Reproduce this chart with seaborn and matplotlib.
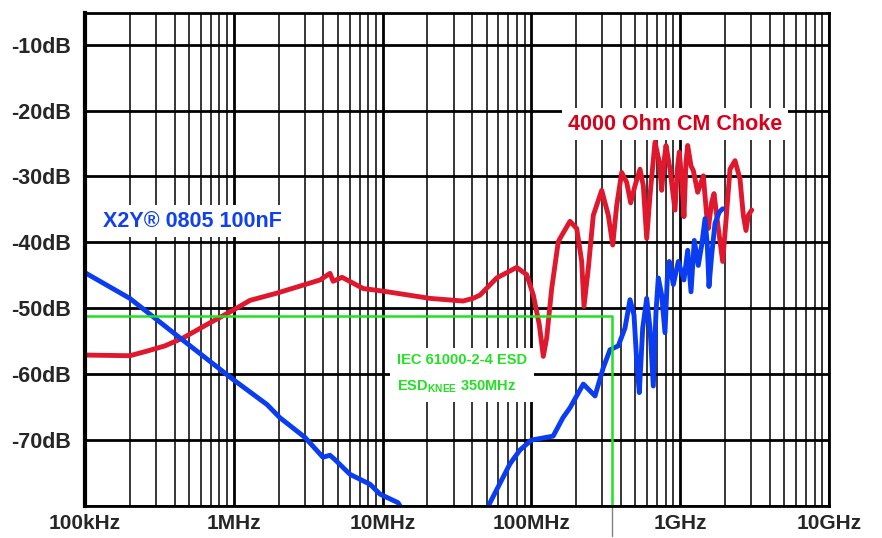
import matplotlib
matplotlib.use("Agg")
import matplotlib.pyplot as plt
import matplotlib.ticker as mticker
import numpy as np
import pandas as pd
import seaborn as sns

# 4000 Ohm CM choke (red)
choke_freq = [1e5, 2.0e5, 2.61e5, 3.449e5, 4.56e5, 6.92e5, 9.88e5, 1.285e6, 1.95e6,
              3.8e6, 4.43e6, 4.65e6, 5.34e6, 7.39e6, 1.007e7, 2.08e7, 3.47e7,
              4.05e7, 4.515e7, 5.845e7, 7.966e7, 9.299e7, 1.030e8, 1.130e8,
              1.202e8, 1.267e8, 1.369e8, 1.516e8, 1.557e8, 1.817e8, 2.016e8,
              2.178e8, 2.257e8, 2.413e8, 2.606e8, 2.968e8, 3.288e8, 3.519e8,
              3.744e8, 4.045e8, 4.370e8, 4.648e8, 4.968e8, 5.369e8, 5.649e8,
              5.955e8, 6.266e8, 6.771e8, 7.236e8, 7.510e8, 7.781e8, 8.027e8,
              8.541e8, 9.228e8, 9.562e8, 9.862e8, 1.0235e9, 1.060e9, 1.094e9,
              1.123e9, 1.182e9, 1.225e9, 1.311e9, 1.430e9, 1.507e9, 1.545e9,
              1.628e9, 1.688e9, 1.804e9, 1.930e9, 2.053e9, 2.161e9, 2.336e9,
              2.523e9, 2.656e9, 2.768e9, 2.869e9, 3.023e9]
choke_db = [-57.1, -57.2, -56.5, -55.7, -54.5, -52.2, -50.3, -48.8, -47.7,
            -45.7, -44.7, -45.9, -45.3, -47.0, -47.4, -48.5, -48.9,
            -48.5, -48.0, -45.4, -43.8, -44.9, -48.0, -52.5,
            -57.3, -54.5, -47.0, -39.9, -39.4, -36.8, -37.9,
            -42.9, -49.7, -43.9, -35.9, -32.1, -35.9, -40.4,
            -34.4, -29.4, -30.9, -34.0, -31.4, -28.9, -31.4,
            -39.4, -32.9, -24.8, -27.8, -32.1, -27.8, -25.3,
            -28.9, -35.1, -28.9, -26.3, -30.4, -36.1, -27.8,
            -25.3, -28.4, -29.1, -32.4, -29.9, -35.9, -37.9,
            -33.9, -32.6, -37.9, -42.9, -35.4, -28.9, -27.6,
            -30.4, -35.9, -38.2, -35.9, -35.1]

# X2Y 0805 100nF (blue), low band and high band
x2y_lo_freq = [1e5, 2.0e5, 4.35e5, 9.88e5, 1.67e6, 2.04e6, 3.01e6, 3.97e6, 4.43e6,
               4.8e6, 6.04e6, 8.23e6, 9.6e6, 1.27e7, 1.35e7]
x2y_lo_db = [-44.6, -48.5, -54.5, -60.8, -64.6, -66.6, -69.6, -72.6, -72.3,
             -73.0, -75.2, -76.7, -78.2, -79.5, -80.5]
x2y_hi_freq = [5.0e7, 5.27e7, 7.18e7, 8.38e7, 1.0e8, 1.4e8, 1.63e8, 1.817e8, 2.233e8,
               2.676e8, 3.043e8, 3.375e8, 3.837e8, 4.256e8, 4.598e8, 4.892e8,
               5.101e8, 5.311e8, 5.598e8, 5.955e8, 6.266e8, 6.594e8, 6.877e8,
               7.125e8, 7.510e8, 7.902e8, 8.192e8, 8.447e8, 8.989e8, 9.710e8,
               1.060e9, 1.123e9, 1.182e9, 1.244e9, 1.323e9, 1.395e9, 1.468e9,
               1.521e9, 1.561e9, 1.628e9, 1.714e9, 1.831e9, 1.930e9]
x2y_hi_db = [-80.5, -79.5, -73.6, -71.5, -70.0, -69.4, -66.6, -65.1, -61.5,
             -63.3, -59.0, -56.3, -55.7, -53.0, -48.7, -51.0,
             -58.0, -62.8, -53.0, -48.5, -53.0, -61.8, -50.5,
             -45.4, -48.0, -53.7, -45.4, -42.9, -46.4, -42.9,
             -45.7, -41.2, -47.5, -39.7, -43.5, -40.4, -36.4,
             -40.4, -46.7, -41.9, -37.1, -35.4, -34.9]

# ESD limit (green)
esd_knee = 3.5e8
esd_level = -51.2

y_ticks = [-10, -20, -30, -40, -50, -60, -70, -80]
y_labels = ["-10dB", "-20dB", "-30dB", "-40dB", "-50dB", "-60dB", "-70dB", ""]
x_ticks = [1e5, 1e6, 1e7, 1e8, 1e9, 1e10]
x_labels = ["100kHz", "1MHz", "10MHz", "100MHz", "1GHz", "10GHz"]

sns.set_style("white")
plt.rcParams["font.family"] = ["Liberation Sans", "DejaVu Sans"]

fig = plt.figure(figsize=(8.82, 5.38), dpi=100)
ax = fig.add_axes([0.0964, 0.0595, 0.8435, 0.9163])
ax.set_xscale("log")
ax.set_xlim(1e5, 1e10)
ax.set_ylim(-80, -5.2)

# grid
ax.xaxis.set_major_locator(mticker.FixedLocator(x_ticks))
ax.xaxis.set_minor_locator(mticker.LogLocator(base=10, subs=np.arange(2, 10)))
ax.xaxis.set_minor_formatter(mticker.NullFormatter())
ax.grid(which="major", axis="both", color="black", lw=2.0)
ax.grid(which="minor", axis="x", color="black", lw=1.1)
ax.set_axisbelow(True)

red = "#e0182d"
blue = "#0a3cf2"
green = "#22e022"

df_choke = pd.DataFrame({"f": choke_freq, "db": choke_db})
df_lo = pd.DataFrame({"f": x2y_lo_freq, "db": x2y_lo_db})
df_hi = pd.DataFrame({"f": x2y_hi_freq, "db": x2y_hi_db})

line_kw = dict(lw=3.5, estimator=None, solid_joinstyle="round", solid_capstyle="round")
sns.lineplot(data=df_choke, x="f", y="db", ax=ax, color=red, **line_kw)
sns.lineplot(data=df_lo, x="f", y="db", ax=ax, color=blue, **line_kw)
sns.lineplot(data=df_hi, x="f", y="db", ax=ax, color=blue, **line_kw)

# ESD limit box
ax.plot([1e5, esd_knee, esd_knee], [esd_level, esd_level, -80], color=green, lw=1.8)
ax.plot([esd_knee, esd_knee], [-80, -84.6], color="#808080", lw=1.0, clip_on=False)

ax.set_yticks(y_ticks)
ax.set_yticklabels(y_labels)
ax.set_xticks(x_ticks)
ax.set_xticklabels(x_labels)
ax.tick_params(axis="y", which="major", direction="out", length=7, width=2,
               color="black", labelsize=15.5, pad=3)
ax.tick_params(axis="x", which="major", direction="out", length=5, width=2,
               color="black", labelsize=15, pad=1)
ax.tick_params(axis="x", which="minor", length=0)
for lab in ax.get_xticklabels() + ax.get_yticklabels():
    lab.set_fontweight("bold")
ax.set_xlabel("")
ax.set_ylabel("")

for side in ["top", "right", "bottom"]:
    ax.spines[side].set_color("black")
    ax.spines[side].set_linewidth(2)
ax.spines["left"].set_color("black")
ax.spines["left"].set_linewidth(3)

box = dict(facecolor="white", edgecolor="none", pad=4)
ax.text(1.32e5, -36.8, "X2Y\u00ae 0805 100nF", color="#1040f0", fontsize=15.5,
        fontweight="bold", va="center", ha="left", bbox=box)
ax.text(1.76e8, -22.1, "4000 Ohm CM Choke", color="#d8001a", fontsize=15.5,
        fontweight="bold", va="center", ha="left", bbox=box)
ax.text(1.25e7, -60.0, "IEC 61000-2-4 ESD\nESD$_{\\mathregular{KNEE}}$ 350MHz",
        color=green, fontsize=10.5, fontweight="bold", va="center", ha="left",
        linespacing=1.9, bbox=dict(facecolor="white", edgecolor="none", pad=5))

fig.savefig("out.png", dpi=100)
